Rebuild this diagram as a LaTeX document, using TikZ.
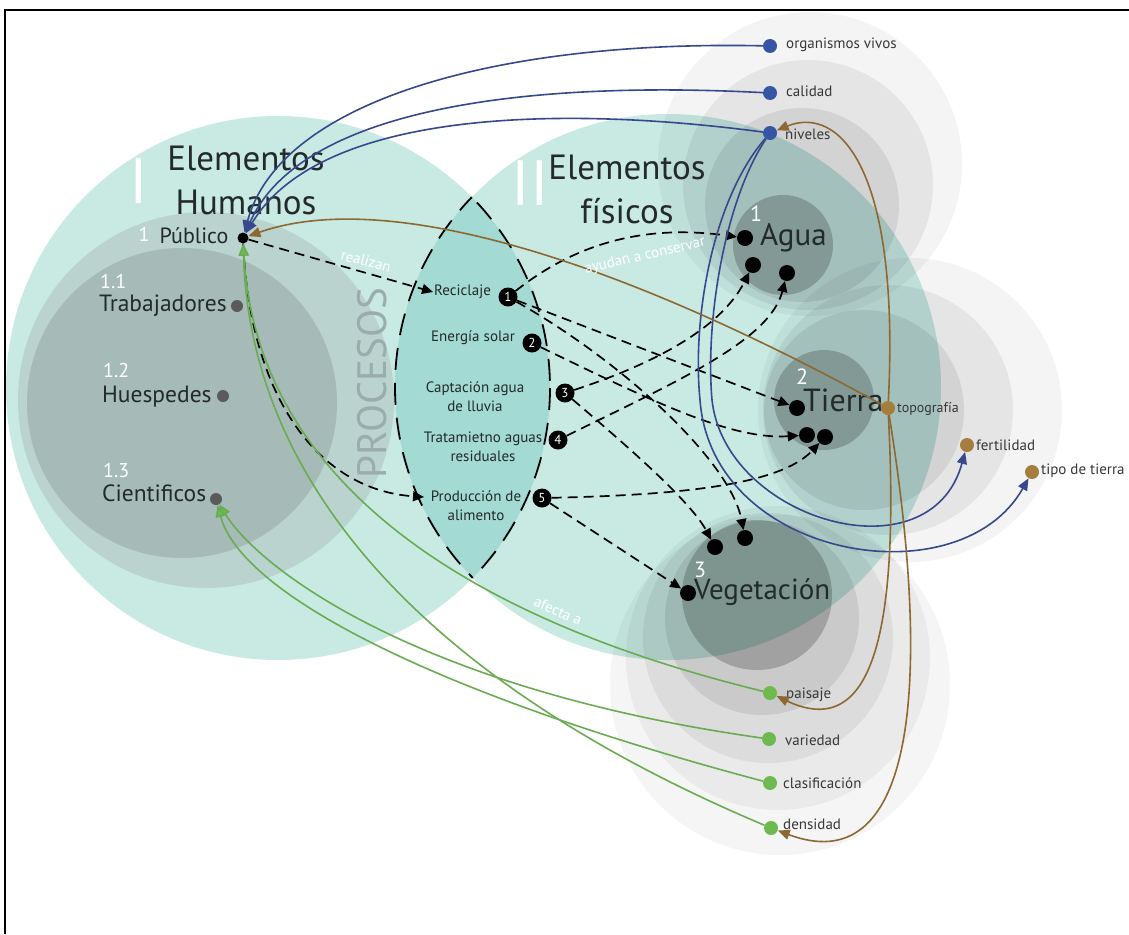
\documentclass[tikz,border=0pt]{standalone}
\usepackage{fontspec}
\setmainfont{PT Sans}
\usetikzlibrary{arrows.meta}
\definecolor{tealA}{RGB}{200,234,227}
\definecolor{lensC}{RGB}{163,218,212}
\definecolor{pubC}{RGB}{186,211,207}
\definecolor{innC}{RGB}{166,186,184}
\definecolor{navyC}{RGB}{55,72,140}
\definecolor{brownC}{RGB}{140,105,50}
\definecolor{dotBrown}{RGB}{165,125,60}
\definecolor{greenC}{RGB}{105,172,82}
\definecolor{greenDot}{RGB}{110,185,80}
\definecolor{blueDot}{RGB}{55,85,165}
\definecolor{txtC}{RGB}{35,42,42}
\definecolor{smallC}{RGB}{55,55,55}
\definecolor{procC}{RGB}{155,172,172}
\definecolor{grayDot}{RGB}{90,90,90}
\newcommand{\myfs}[1]{\fontsize{#1}{#1}\selectfont}
\begin{document}
\begin{tikzpicture}[x=1pt,y=-1pt,
  ring/.style={fill=black},
  lab/.style={text=txtC,inner sep=0pt},
  wnum/.style={text=white,inner sep=0pt},
  small/.style={text=smallC,inner sep=0pt,anchor=west,font=\myfs{15}},
  plab/.style={text=txtC,inner sep=1pt,font=\fontsize{15}{19}\selectfont},
  numc/.style={circle,fill=black,text=white,inner sep=0pt,minimum size=19pt,font=\myfs{13}},
  eldot/.style={circle,fill=black,inner sep=0pt,minimum size=16pt},
  bdot/.style={circle,fill=blueDot,inner sep=0pt,minimum size=14pt},
  brdot/.style={circle,fill=dotBrown,inner sep=0pt,minimum size=14pt},
  gdot/.style={circle,fill=greenDot,inner sep=0pt,minimum size=14pt},
  grdot/.style={circle,fill=grayDot,inner sep=0pt,minimum size=12pt},
  pubdot/.style={circle,fill=black,inner sep=0pt,minimum size=11pt},
  online/.style={text=white,inner sep=0pt,font=\myfs{15}},
  lensdash/.style={draw=black,line width=1.8pt,dash pattern=on 22pt off 13pt},
  dasharr/.style={draw=black,line width=1.7pt,dash pattern=on 10pt off 6pt,-{Triangle[length=11pt,width=10pt]}},
  navyarr/.style={draw=navyC,line width=1.6pt,-{Triangle[length=12pt,width=10pt]}},
  brownarr/.style={draw=brownC,line width=1.6pt,-{Triangle[length=12pt,width=10pt]}},
  greenarr/.style={draw=greenC,line width=1.6pt,-{Triangle[length=12pt,width=10pt,fill=greenDot]}}
]
\useasboundingbox (0,0) rectangle (1129,934);
\fill[white] (0,0) rectangle (1129,934);

% big teal circles and lens
\fill[tealA] (278,388) circle (272);
\fill[tealA] (668,387) circle (273);
\begin{scope}
  \clip (278,388) circle (272);
  \fill[lensC] (668,387) circle (273);
\end{scope}
% human circles
\fill[pubC] (206,400) circle (188);
\fill[innC] (182,403) circle (155);

% Agua rings
\fill[ring,fill opacity=0.045] (810,164) circle (152);
\fill[ring,fill opacity=0.06] (808,185) circle (125);
\fill[ring,fill opacity=0.08] (802,205) circle (97);
\fill[ring,fill opacity=0.2] (783,245) circle (50);
% Tierra rings
\fill[ring,fill opacity=0.045] (910,410) circle (152);
\fill[ring,fill opacity=0.06] (888,410) circle (125);
\fill[ring,fill opacity=0.08] (864,410) circle (100);
\fill[ring,fill opacity=0.2] (824,400) circle (50);
% Vegetacion rings
\fill[ring,fill opacity=0.04] (780,685) circle (170);
\fill[ring,fill opacity=0.045] (778,658) circle (152);
\fill[ring,fill opacity=0.06] (768,638) circle (125);
\fill[ring,fill opacity=0.08] (762,618) circle (97);
\fill[ring,fill opacity=0.2] (757,595) circle (75);

% frame
\draw[line width=1.4pt] (5,934) -- (5,10) -- (1129,10);

% PROCESOS
\node[rotate=90,text=procC,inner sep=0pt,font=\myfs{41}] (procesos) at (372,383) {PROCESOS};

% lens dashed outline
\begin{scope}
  \clip (278,388) circle (272);
  \draw[lensdash] (668,387) circle (273);
\end{scope}
\begin{scope}
  \clip (668,387) circle (273);
  \draw[lensdash] (278,388) circle (272);
\end{scope}

% titles
\node[wnum,font=\myfs{64}] (romI) at (139,181) {I};
\node[lab,align=center,font=\fontsize{35}{44}\selectfont] (humanos) at (246,180) {Elementos\\Humanos};
\node[wnum,font=\myfs{64}] (romII) at (530,183) {II};
\node[lab,align=center,font=\fontsize{35}{44}\selectfont] (fisicos) at (627,189) {Elementos\\físicos};

% human elements
\node[wnum,font=\myfs{20}] (n1) at (144,234) {1};
\node[lab,font=\myfs{22}] (publico) at (194,236) {Público};
\node[pubdot] (pub) at (243,238) {};
\node[wnum,font=\myfs{20},anchor=west] (n11) at (100,281) {1.1};
\node[lab,font=\myfs{23.5},anchor=west] (trab) at (99,306) {Trabajadores};
\node[grdot] (trabd) at (237,306) {};
\node[wnum,font=\myfs{20},anchor=west] (n12) at (103,370) {1.2};
\node[lab,font=\myfs{23.5},anchor=west] (hues) at (102,397) {Huespedes};
\node[grdot] (huesd) at (223,396) {};
\node[wnum,font=\myfs{20},anchor=west] (n13) at (103,470) {1.3};
\node[lab,font=\myfs{23.5},anchor=west] (cien) at (102,493) {Cientificos};
\node[grdot] (ciend) at (216,499) {};

% processes
\node[plab,anchor=west] (rec) at (433,292) {Reciclaje};
\node[plab,anchor=west] (ene) at (430,338) {Energía solar};
\node[plab,align=center] (cap) at (475,397) {Captación agua\\de lluvia};
\node[plab,align=center] (tra) at (483,447) {Tratamietno aguas\\residuales};
\node[plab,align=center] (prod) at (476,506) {Producción de\\alimento};
\coordinate (prodin) at (424,497);
\node[numc] (c1) at (508,297) {1};
\node[numc] (c2) at (532,343) {2};
\node[numc] (c3) at (565,393) {3};
\node[numc] (c4) at (558,440) {4};
\node[numc] (c5) at (542,498) {5};

% physical elements
\node[wnum,font=\myfs{22}] (a1n) at (756,214) {1};
\node[lab,font=\myfs{31},anchor=west] (agua) at (760,238) {Agua};
\node[eldot] (A1) at (745,238) {};
\node[eldot] (A2) at (753,265) {};
\node[eldot] (A3) at (787,273) {};
\node[wnum,font=\myfs{22}] (t2n) at (802,377) {2};
\node[lab,font=\myfs{32},anchor=west] (tierra) at (803,400) {Tierra};
\node[eldot] (T1) at (797,408) {};
\node[eldot] (T2) at (807,435) {};
\node[eldot] (T3) at (825,437) {};
\node[wnum,font=\myfs{22}] (v3n) at (700,570) {3};
\node[lab,font=\myfs{29},anchor=west] (vegt) at (694,592) {Vegetación};
\node[eldot] (V1) at (715,547) {};
\node[eldot] (V2) at (745,538) {};
\node[eldot] (V3) at (688,593) {};

% attribute dots and labels
\node[bdot] (org) at (770,46) {};
\node[small] (orgl) at (786,45) {organismos vivos};
\node[bdot] (cal) at (770,93) {};
\node[small] (call) at (786,91) {calidad};
\node[bdot] (niv) at (770,133) {};
\node[small] (nivl) at (785,134) {niveles};
\node[brdot] (topo) at (888,408) {};
\node[small,font=\myfs{14}] (topol) at (897,409) {topografía};
\node[brdot] (fert) at (967,445) {};
\node[small] (fertl) at (976,445) {fertilidad};
\node[brdot] (tipo) at (1032,472) {};
\node[small] (tipol) at (1041,471) {tipo de tierra};
\node[gdot] (pais) at (770,693) {};
\node[small] (paisl) at (786,695) {paisaje};
\node[gdot] (var) at (769,739) {};
\node[small] (varl) at (785,740) {variedad};
\node[gdot] (clas) at (770,783) {};
\node[small] (clasl) at (783,783) {clasificación};
\node[gdot] (dens) at (771,828) {};
\node[small] (densl) at (783,824) {densidad};

% dashed process arrows
\draw[dasharr] (pub) -- (rec.west);
\draw[dasharr] (pub) .. controls (250,400) and (320,490) .. (prodin);
\draw[dasharr] (c1) .. controls (580,240) and (650,225) .. (A1);
\draw[dasharr] (c1) -- (T1);
\draw[dasharr] (c1) .. controls (620,360) and (730,460) .. (V2);
\draw[dasharr] (c2) .. controls (650,400) and (730,440) .. (T2);
\draw[dasharr] (c3) .. controls (650,365) and (720,330) .. (A2);
\draw[dasharr] (c3) .. controls (620,440) and (690,500) .. (V1);
\draw[dasharr] (c4) .. controls (680,380) and (770,340) .. (A3);
\draw[dasharr] (c5) .. controls (680,495) and (780,485) .. (T3);
\draw[dasharr] (c5) -- (V3);

% blue connectors
\draw[navyarr] (org) .. controls (500,40) and (280,100) .. (pub);
\draw[navyarr] (cal) .. controls (520,80) and (300,110) .. (pub);
\draw[navyarr] (niv) .. controls (560,105) and (320,110) .. (pub);
\draw[navyarr] (niv) .. controls (725,200) and (705,320) .. (712,400) .. controls (725,520) and (930,580) .. (fert);
\draw[navyarr] (niv) .. controls (712,200) and (692,320) .. (700,400) .. controls (712,560) and (960,600) .. (tipo);

% brown connectors
\draw[brownarr] (topo) .. controls (600,250) and (380,190) .. (pub);
\draw[brownarr] (topo) .. controls (900,170) and (840,105) .. (niv);
\draw[brownarr] (topo) .. controls (900,640) and (870,740) .. (pais);
\draw[brownarr] (topo) .. controls (935,700) and (910,880) .. (dens);

% green connectors
\draw[greenarr] (pais) .. controls (430,610) and (255,460) .. (pub);
\draw[greenarr] (dens) .. controls (420,680) and (250,480) .. (pub);
\draw[greenarr] (var) .. controls (420,690) and (260,570) .. (ciend);
\draw[greenarr] (clas) .. controls (420,690) and (240,590) .. (ciend);

% labels on connectors
\node[online,rotate=-14] (realizan) at (366,261) {realizan};
\node[online,rotate=13] (ayudan) at (645,256) {ayudan a conservar};
\node[online,rotate=-23] (afecta) at (558,611) {afecta a};
\end{tikzpicture}
\end{document}
